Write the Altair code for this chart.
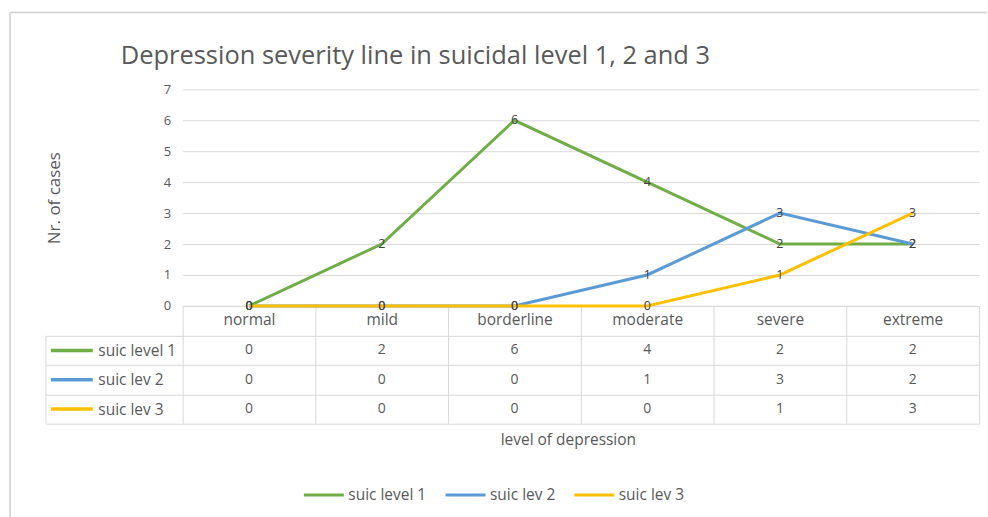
import altair as alt
import pandas as pd

# Depression level categories and the number of cases per suicidal level
levels = ["normal", "mild", "borderline", "moderate", "severe", "extreme"]
series = ["suic level 1", "suic lev 2", "suic lev 3"]
suic_level_1 = [0, 2, 6, 4, 2, 2]
suic_lev_2 = [0, 0, 0, 1, 3, 2]
suic_lev_3 = [0, 0, 0, 0, 1, 3]
colors = ["#70AD47", "#5B9BD5", "#FFC000"]

rows = []
for name, vals in zip(series, [suic_level_1, suic_lev_2, suic_lev_3]):
    for lvl, v in zip(levels, vals):
        rows.append({"series": name, "level": lvl, "cases": v})
df = pd.DataFrame(rows)

FONT = "Open Sans"
TXT = "#595959"
GRID = "#D9D9D9"
W = 798
H_PLOT = 217
H_TABLE = 88
FS = 15.5

color = alt.Color(
    "series:N",
    sort=series,
    scale=alt.Scale(domain=series, range=colors),
    legend=alt.Legend(
        title=None, orient="none", direction="horizontal",
        legendX=120, legendY=385,
        symbolType="stroke", symbolSize=1600, symbolStrokeWidth=3,
        labelFontSize=FS, labelColor=TXT, labelFont=FONT,
        labelOffset=3, columnPadding=12,
    ),
)

band = alt.Scale(type="band", paddingInner=0, paddingOuter=0)

# ---- line chart ----
x_top = alt.X(
    "level:N", sort=levels, scale=band,
    axis=alt.Axis(
        title=None, labelAngle=0, labelFontSize=FS, labelColor=TXT, labelFont=FONT,
        tickBand="extent", tickSize=30, tickColor=GRID, labelPadding=-23,
        domainColor=GRID,
    ),
)
y_top = alt.Y(
    "cases:Q",
    scale=alt.Scale(domain=[0, 7], nice=False),
    axis=alt.Axis(
        title="Nr. of cases", titleFont=FONT, titleFontSize=17, titleFontWeight="normal",
        titleColor=TXT, titlePadding=100, values=[0, 1, 2, 3, 4, 5, 6, 7],
        labelFontSize=13, labelColor=TXT, labelFont=FONT, labelPadding=12,
        labelOverlap=False, domain=False, ticks=False, gridColor=GRID,
    ),
)

base = alt.Chart(df)
lines = base.mark_line(strokeWidth=3).encode(
    x=x_top, y=y_top, color=color, order=alt.Order("series:N")
)
labels = base.mark_text(fontSize=12.5, color="#404040", font=FONT).encode(
    x=x_top, y=y_top, text="cases:Q"
)

top = alt.layer(lines, labels).properties(
    width=W, height=H_PLOT,
    title=alt.TitleParams(
        "Depression severity line in suicidal level 1, 2 and 3",
        anchor="start", frame="group", dx=-62, offset=14,
        fontSize=25.5, font=FONT, fontWeight="normal", color=TXT,
    ),
)

# ---- data table ----
x_tab = alt.X(
    "level:N", sort=levels, scale=band,
    axis=alt.Axis(
        title="level of depression", titleFont=FONT, titleFontSize=FS,
        titleFontWeight="normal", titleColor=TXT, titlePadding=9, titleX=386,
        labels=False, ticks=False, domain=False,
        grid=True, tickBand="extent", gridColor=GRID,
    ),
)
y_tab = alt.Y(
    "series:N", sort=series, scale=band,
    axis=alt.Axis(
        title=None, labelAlign="left", labelPadding=-52, labelFontSize=FS,
        labelColor=TXT, labelFont=FONT, tickSize=137, tickBand="extent",
        tickColor=GRID, grid=True, gridColor=GRID, domain=False,
    ),
)

cells = base.mark_text(fontSize=14, color=TXT, font=FONT).encode(
    x=x_tab, y=y_tab, text="cases:Q"
)
swatch_df = pd.DataFrame({"series": series})
swatches = alt.Chart(swatch_df).mark_rule(strokeWidth=3.5).encode(
    x=alt.value(-132), x2=alt.value(-90), y=alt.Y("series:N", sort=series, scale=band),
    color=color,
)
one_row = pd.DataFrame({"k": [0]})
table_left = alt.Chart(one_row).mark_rule(color=GRID).encode(
    x=alt.value(-137), y=alt.value(0), y2=alt.value(H_TABLE)
)
# light outer frame of the whole figure (top and left edges)
frame_top = alt.Chart(one_row).mark_rule(color="#D0D0D0", strokeWidth=1.5).encode(
    x=alt.value(-173), x2=alt.value(806), y=alt.value(-324)
)
frame_left = alt.Chart(one_row).mark_rule(color="#D0D0D0", strokeWidth=1.5).encode(
    x=alt.value(-173), y=alt.value(-324), y2=alt.value(182)
)

table = alt.layer(frame_top, frame_left, cells, swatches, table_left).properties(
    width=W, height=H_TABLE
)

chart = (
    alt.vconcat(top, table, spacing=30, bounds="flush")
    .properties(padding={"left": 9, "top": 11, "right": 0, "bottom": 0})
    .configure_view(strokeWidth=0)
)

chart.save("out.html", embed_options={"renderer": "svg", "actions": False})
